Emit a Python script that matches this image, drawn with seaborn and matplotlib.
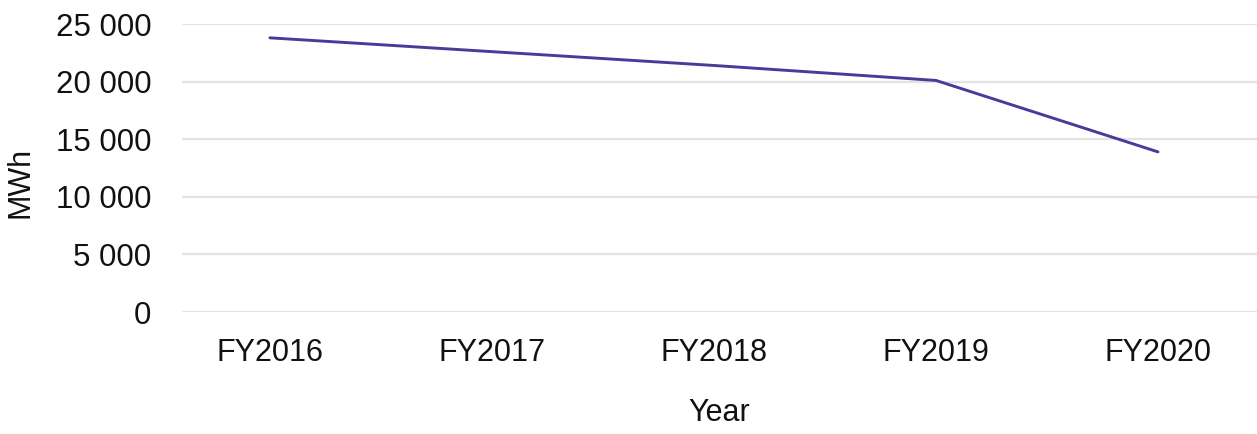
import matplotlib
matplotlib.use("Agg")
import matplotlib.pyplot as plt
import matplotlib.ticker as mticker
import seaborn as sns
import pandas as pd

years = ["FY2016", "FY2017", "FY2018", "FY2019", "FY2020"]
mwh = [23800, 22600, 21400, 20100, 13900]

df = pd.DataFrame({"Year": years, "MWh": mwh})

sns.set_theme(style="white")
plt.rcParams["font.family"] = ["Liberation Sans", "DejaVu Sans"]

fig = plt.figure(figsize=(12.57, 4.34), dpi=100)
ax = fig.add_axes([182 / 1257, 1 - 312 / 434, (1257 - 182) / 1257, (312 - 24) / 434])

sns.lineplot(data=df, x="Year", y="MWh", ax=ax, color="#4b3a99", linewidth=2.1, sort=False)

ax.set_ylim(0, 25000)
ax.set_xlim(-0.396, 4.446)
ax.yaxis.set_major_locator(mticker.MultipleLocator(5000))
ax.yaxis.set_major_formatter(mticker.FuncFormatter(lambda v, p: f"{int(v):,}".replace(",", " ")))
ax.grid(axis="y", color="#e3e3e3", linewidth=1.6)
ax.grid(axis="x", visible=False)
for s in ax.spines.values():
    s.set_visible(False)
ax.tick_params(axis="y", length=0, pad=22, labelsize=22.5, colors="#111111")
ax.tick_params(axis="x", length=0, pad=19, labelsize=22, colors="#111111")
ax.set_xlabel("Year", fontsize=22, color="#111111")
ax.set_ylabel("MWh", fontsize=22, color="#111111")
ax.xaxis.set_label_coords(0.5, -0.30)
ax.yaxis.set_label_coords(-0.136, 0.45)

fig.savefig("out.png", dpi=100)
